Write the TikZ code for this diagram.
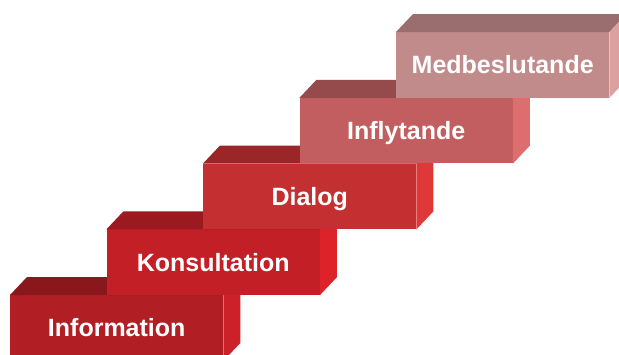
\documentclass[tikz,border=0pt]{standalone}
\usepackage{fontspec}
\setmainfont{Liberation Sans}
\definecolor{info-front}{HTML}{B11E24}
\definecolor{info-top}{HTML}{8A171B}
\definecolor{info-side}{HTML}{CC2128}
\definecolor{kons-front}{HTML}{C21F26}
\definecolor{kons-top}{HTML}{9A1A1F}
\definecolor{kons-side}{HTML}{DE2229}
\definecolor{dial-front}{HTML}{C42F31}
\definecolor{dial-top}{HTML}{9B2628}
\definecolor{dial-side}{HTML}{DF3839}
\definecolor{infl-front}{HTML}{C25E5F}
\definecolor{infl-top}{HTML}{954B4C}
\definecolor{infl-side}{HTML}{DE6D6D}
\definecolor{medb-front}{HTML}{C28B8B}
\definecolor{medb-top}{HTML}{9A6E6E}
\definecolor{medb-side}{HTML}{DCA0A0}
\tikzset{
  stepfront/.style={anchor=north west, minimum width=213pt, minimum height=65.5pt,
    inner sep=0pt, text=white, text height=17.9pt, text depth=0pt,
    font=\bfseries\fontsize{25}{25}\selectfont}
}
\begin{document}
\begin{tikzpicture}[x=1pt,y=-1pt]
\useasboundingbox (0,0) rectangle (619,354);
\clip (0,0) rectangle (619,354);
% steps from the lowest to the highest
\foreach \i/\name/\txt in {0/info/Information,1/kons/Konsultation,2/dial/Dialog,3/infl/Inflytande,4/medb/Medbeslutande}{
  \node[stepfront, fill=\name-front] (\name) at ({10+96.5*\i},{295-65.75*\i}) {\txt};
  \fill[\name-top] (\name.north west) -- ++(17,-18) -- ([shift={(17,-18)}]\name.north east) -- (\name.north east) -- cycle;
  \fill[\name-side] (\name.north east) -- ++(17,-18) -- ([shift={(17,-18)}]\name.south east) -- (\name.south east) -- cycle;
}
\end{tikzpicture}
\end{document}
